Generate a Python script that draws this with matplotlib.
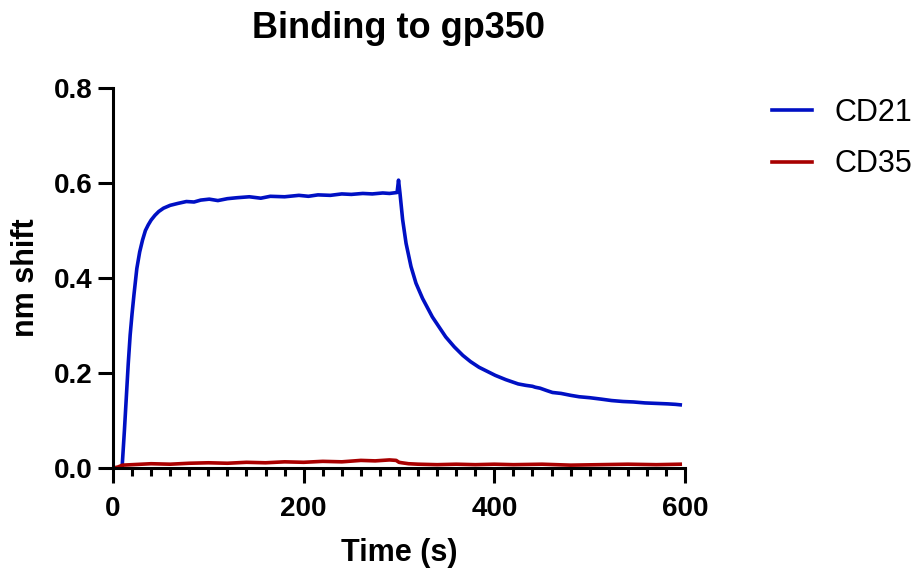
import matplotlib
matplotlib.use("Agg")
import matplotlib.pyplot as plt
from matplotlib.ticker import MultipleLocator

plt.rcParams['font.family'] = ['Liberation Sans', 'DejaVu Sans']

# values (time in s, shift in nm)
cd21_time = [9.5, 12, 14, 16, 18, 20, 22, 25, 28, 31, 34, 37, 40, 44, 48, 53, 60, 68, 77, 85,
             92, 101, 110, 120, 130, 143, 155, 165, 180, 195, 205, 215, 228, 240, 250, 262, 272,
             283, 290, 298, 299.5, 301, 303.8, 307.4, 312.6, 317.8, 324.7, 335, 342, 349, 358,
             367, 375, 384, 392, 401, 412, 425, 433, 440, 443, 448, 455, 461, 470, 480, 489,
             500, 512, 523, 535, 546, 558, 570, 582, 590, 595]
cd21_shift = [0.0, 0.08, 0.15, 0.22, 0.28, 0.325, 0.365, 0.42, 0.455, 0.48, 0.50, 0.512, 0.522,
              0.532, 0.540, 0.547, 0.553, 0.557, 0.561, 0.560, 0.564, 0.566, 0.563, 0.567, 0.569,
              0.571, 0.568, 0.572, 0.571, 0.574, 0.572, 0.575, 0.574, 0.577, 0.576, 0.578, 0.577,
              0.579, 0.578, 0.580, 0.606, 0.579, 0.523, 0.473, 0.424, 0.389, 0.357, 0.318, 0.297,
              0.276, 0.255, 0.237, 0.224, 0.212, 0.204, 0.195, 0.186, 0.177, 0.174, 0.172, 0.170,
              0.168, 0.163, 0.159, 0.157, 0.153, 0.150, 0.148, 0.145, 0.142, 0.140, 0.139, 0.137,
              0.136, 0.135, 0.134, 0.133]

cd35_time = [0, 5, 10, 20, 40, 60, 80, 100, 120, 140, 160, 180, 200, 220, 240, 260, 275, 290,
             297, 300, 303, 310, 320, 340, 360, 380, 400, 420, 450, 480, 510, 540, 570, 595]
cd35_shift = [0.0, 0.002, 0.006, 0.007, 0.009, 0.008, 0.010, 0.011, 0.010, 0.012, 0.011, 0.013,
              0.012, 0.014, 0.013, 0.016, 0.015, 0.017, 0.016, 0.012, 0.011, 0.009, 0.008, 0.007,
              0.008, 0.007, 0.008, 0.007, 0.008, 0.006, 0.007, 0.008, 0.007, 0.008]

blue = '#0010C4'
red = '#A80000'

fig = plt.figure(figsize=(9.2, 5.73), dpi=100)
ax = fig.add_axes([113 / 920, 1 - 468 / 573, 572 / 920, 380 / 573])

ax.plot(cd21_time, cd21_shift, color=blue, lw=2.6, label='CD21')
ax.plot(cd35_time, cd35_shift, color=red, lw=2.6, label='CD35')

ax.set_xlim(0, 600)
ax.set_ylim(0, 0.8)
ax.xaxis.set_major_locator(MultipleLocator(200))
ax.xaxis.set_minor_locator(MultipleLocator(20))
ax.yaxis.set_major_locator(MultipleLocator(0.2))
ax.yaxis.set_major_formatter(matplotlib.ticker.FormatStrFormatter('%.1f'))

for side in ['top', 'right']:
    ax.spines[side].set_visible(False)
for side in ['left', 'bottom']:
    ax.spines[side].set_linewidth(2.2)
    ax.spines[side].set_capstyle('projecting')
ax.tick_params(which='major', length=11, width=2.2, labelsize=20)
ax.tick_params(axis='y', pad=4)
ax.tick_params(axis='x', pad=9)
ax.tick_params(which='minor', length=5.5, width=2.2)
for lab in ax.get_xticklabels() + ax.get_yticklabels():
    lab.set_fontweight('bold')

ax.set_xlabel('Time (s)', fontsize=22, fontweight='bold', labelpad=12)
ax.set_ylabel('nm shift', fontsize=22, fontweight='bold', labelpad=9)
ax.set_title('Binding to gp350', fontsize=26, fontweight='bold', pad=36)

ax.legend(loc='upper left', bbox_to_anchor=(772 / 920, 1 - 98 / 573), bbox_transform=fig.transFigure,
          frameon=False, borderpad=0, borderaxespad=0, fontsize=22, handlelength=1.31,
          handletextpad=0.75, labelspacing=0.7)

fig.savefig('out.png', dpi=100)
